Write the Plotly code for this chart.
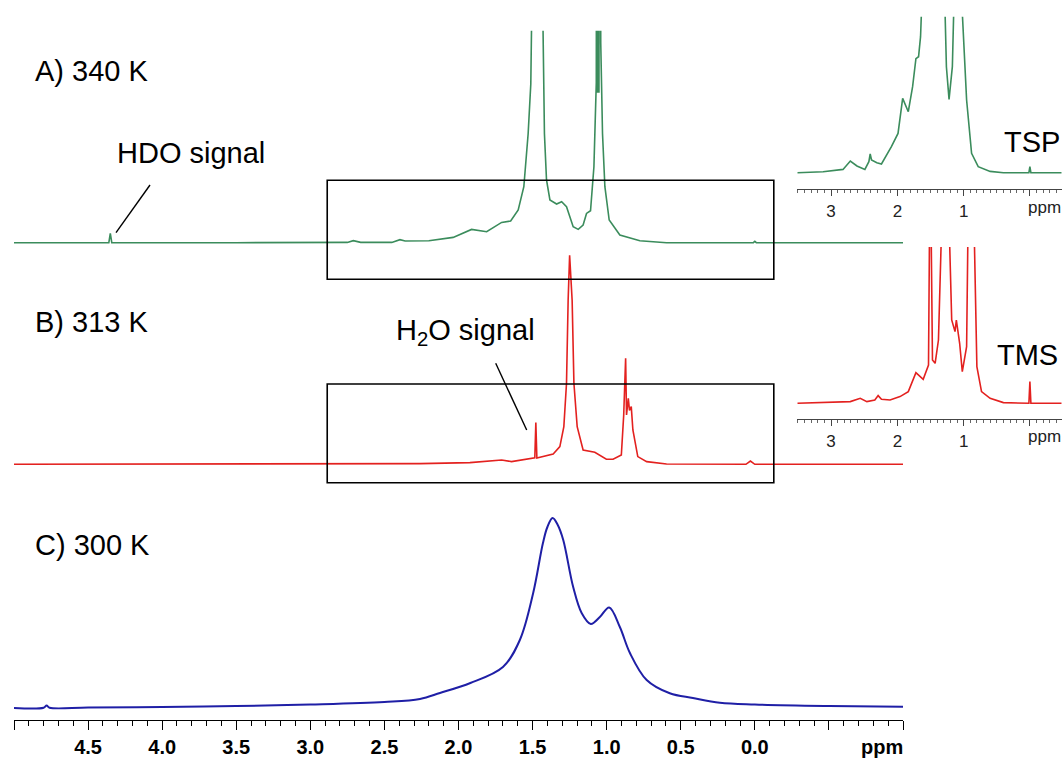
import plotly.graph_objects as go

W, H = 1064, 760

# ---------------- data (ppm, relative intensity, arbitrary units) ----------------
# C) 300 K (blue)
ppm_c = [5.0, 4.80, 4.78, 4.76, 4.5, 4.0, 3.5, 3.0, 2.5, 2.26, 2.125, 1.92, 1.70, 1.586, 1.496,
         1.43, 1.40, 1.365, 1.33, 1.293, 1.226, 1.169, 1.107, 1.046, 0.983, 0.911, 0.843, 0.73,
         0.574, 0.418, 0.236, 0.0, -0.5, -1.0]
int_c = [0, 0.3, 2.5, 0.3, 0.5, 1, 2, 3.5, 6, 9, 15, 25, 41, 68, 115,
         165, 181, 190, 183, 168, 121, 95, 84, 91, 100.5, 81, 55, 28,
         14.7, 10, 5.3, 3.5, 2, 1.3]

# B) 313 K (red)
ppm_b = [5.0, 2.935, 2.53, 2.26, 1.923, 1.709, 1.642, 1.496, 1.485, 1.478, 1.471, 1.361, 1.316,
         1.289, 1.271, 1.26, 1.25, 1.233, 1.221, 1.199, 1.159, 1.08, 1.002, 0.957, 0.901, 0.885,
         0.872, 0.866, 0.854, 0.846, 0.834, 0.823, 0.79, 0.73, 0.596, 0.06, 0.03, 0.0, -1.0]
int_b = [0, 0, 0.7, 0.7, 1.7, 4.3, 2.7, 5.7, 6.5, 41.7, 6.3, 10.3, 17.7,
         37.7, 81, 164, 209, 164, 81, 37.7, 14.3, 12, 5, 5, 9.3, 49.3,
         106, 49.3, 66, 54, 57.7, 34.3, 7.7, 2.7, 0.3, 0, 3.3, 0, 0]

# A) 340 K (green)
ppm_a = [5.0, 4.36, 4.35, 4.34, 3.5, 2.935, 2.75, 2.71, 2.66, 2.45, 2.395, 2.36, 2.2, 2.036,
         1.912, 1.81, 1.709, 1.648, 1.597, 1.559, 1.53, 1.512, 1.498, 1.465, 1.431, 1.42, 1.406,
         1.383, 1.338, 1.304, 1.271, 1.226, 1.192, 1.159, 1.136, 1.109, 1.086, 1.077, 1.070,
         1.066, 1.061, 1.057, 1.052, 1.048, 1.040, 1.028, 1.012, 0.983, 0.911, 0.776, 0.596,
         0.01, 0.0, -0.01, -1.0]
int_a = [0, 0, 9.4, 0, 0, 0, 0.3, 2, 0.3, 0.3, 3, 1.7, 2, 5.3,
         13.3, 11, 20.3, 21.7, 32.7, 56, 109, 159, 230, 700, 230, 109, 62.7,
         42.7, 38.7, 41, 36, 16, 13.3, 17.7, 29.3, 32, 76, 129, 160,
         700, 150, 700, 150, 700, 200, 109, 56, 22.7, 7.7, 2, 0,
         0, 1.3, 0, 0]

# Inset of A (green, TSP reference)
ppm_ia = [3.51, 3.12, 2.82, 2.71, 2.61, 2.49, 2.43, 2.41, 2.39, 2.31, 2.24, 2.16, 2.09, 1.99,
          1.92, 1.835, 1.77, 1.72, 1.68, 1.65, 1.63, 1.45, 1.28, 1.26, 1.22, 1.17, 1.15, 1.08,
          1.02, 0.955, 0.88, 0.78, 0.60, 0.40, 0.015, 0.0, -0.015, -0.48]
int_ia = [0, 1, 3.3, 11.7, 6.7, 3.3, 11, 18.7, 12.7, 10, 8.7, 17.7, 26, 39.3,
          74.3, 61, 86, 114, 116, 136, 160, 500, 160, 106, 73.3, 106, 160, 500,
          160, 72.7, 19.3, 6, 1.3, 0, 0, 6, 0, 0]

# Inset of B (red, TMS reference)
ppm_ib = [3.51, 2.71, 2.56, 2.46, 2.34, 2.29, 2.24, 2.11, 1.96, 1.835, 1.72, 1.61, 1.53, 1.515,
          1.505, 1.49, 1.47, 1.43, 1.38, 1.335, 1.25, 1.215, 1.18, 1.13, 1.11, 1.06, 1.02, 0.98,
          0.955, 0.935, 0.87, 0.84, 0.80, 0.73, 0.60, 0.40, 0.015, 0.0, -0.015, -0.48]
int_ib = [0, 1.7, 5, 1.7, 3.3, 7.7, 4, 3.3, 6.7, 11.7, 30.7, 24, 38.3, 170,
          400, 170, 43.3, 40, 63.3, 170, 1500, 170, 83.3, 71.7, 83.3, 60, 31.7, 45,
          56.7, 170, 700, 170, 36.7, 11.7, 5, 0.7, 0, 21.7, 0, 0]

main_tickvals = [4.5, 4.0, 3.5, 3.0, 2.5, 2.0, 1.5, 1.0, 0.5, 0.0]
main_ticktext = ["4.5", "4.0", "3.5", "3.0", "2.5", "2.0", "1.5", "1.0", "0.5", "0.0"]
main_unlabeled_ticks = [5.0, -0.5, -1.0]
inset_tickvals = [3, 2, 1]
inset_ticktext = ["3", "2", "1"]
inset_unlabeled_ticks = [0]

GREEN = "#3b8c5c"
RED = "#e3211f"
BLUE = "#1f1fa6"
FONT = "Liberation Sans, Arial, sans-serif"


# ---------------- layout helpers (pixel based) ----------------
def xdom(left_px, right_px):
    return [left_px / W, right_px / W]


def ydom(bottom_px, top_px):
    return [1 - bottom_px / H, 1 - top_px / H]


def yrng(bottom_px, top_px, base_px):
    # 1 intensity unit = 1 pixel
    return [-(bottom_px - base_px), base_px - top_px]


def px(x):
    return x / W


def py(y):
    return 1 - y / H


fig = go.Figure()
fig.add_trace(go.Scatter(x=ppm_c, y=int_c, mode="lines", line=dict(color=BLUE, shape="spline", width=2),
                         xaxis="x", yaxis="y", hoverinfo="skip"))
fig.add_trace(go.Scatter(x=ppm_b, y=int_b, mode="lines", line=dict(color=RED, width=1.6),
                         xaxis="x", yaxis="y2", hoverinfo="skip"))
fig.add_trace(go.Scatter(x=ppm_a, y=int_a, mode="lines", line=dict(color=GREEN, width=1.6),
                         xaxis="x", yaxis="y3", hoverinfo="skip"))
fig.add_trace(go.Scatter(x=ppm_ia, y=int_ia, mode="lines", line=dict(color=GREEN, width=1.6),
                         xaxis="x2", yaxis="y4", hoverinfo="skip"))
fig.add_trace(go.Scatter(x=ppm_ib, y=int_ib, mode="lines", line=dict(color=RED, width=1.6),
                         xaxis="x3", yaxis="y5", hoverinfo="skip"))
# empty traces so the tick-only overlay axes get drawn
for xa, ya in [("x4", "y"), ("x5", "y4"), ("x6", "y5")]:
    fig.add_trace(go.Scatter(x=[], y=[], mode="lines", xaxis=xa, yaxis=ya, hoverinfo="skip"))

hidden_y = dict(visible=False, showgrid=False, zeroline=False, fixedrange=True)
main_range = [5.0, -1.0]
inset_range = [3.51, -0.48]

main_x = dict(
    domain=xdom(14, 903), range=main_range, anchor="y",
    showline=True, linecolor="black", linewidth=1.4,
    ticks="outside", ticklen=9, tickwidth=1.4, tickcolor="black",
    tickmode="array", tickvals=main_tickvals, ticktext=main_ticktext,
    tickfont=dict(family=FONT, size=20, color="black", weight="bold"),
    minor=dict(ticks="outside", ticklen=5, tickwidth=1.1, tickcolor="black", tick0=0, dtick=0.1),
    showgrid=False, zeroline=False,
)
main_x_extra = dict(
    overlaying="x", range=main_range, anchor="y", showline=False,
    ticks="outside", ticklen=9, tickwidth=1.4, tickcolor="black",
    tickmode="array", tickvals=main_unlabeled_ticks, showticklabels=False,
    showgrid=False, zeroline=False,
)


def inset_x(anchor):
    return dict(
        domain=xdom(797.3, 1061.7), range=inset_range, anchor=anchor,
        showline=True, linecolor="#444", linewidth=1.2,
        ticks="outside", ticklen=6, tickwidth=1.1, tickcolor="#444",
        tickmode="array", tickvals=inset_tickvals, ticktext=inset_ticktext,
        tickfont=dict(family=FONT, size=17, color="#222"),
        minor=dict(ticks="outside", ticklen=3, tickwidth=0.8, tickcolor="#666", tick0=0, dtick=0.1),
        showgrid=False, zeroline=False,
    )


def inset_x_extra(over, anchor):
    return dict(
        overlaying=over, range=inset_range, anchor=anchor, showline=False,
        ticks="outside", ticklen=6, tickwidth=1.1, tickcolor="#444",
        tickmode="array", tickvals=inset_unlabeled_ticks, showticklabels=False,
        showgrid=False, zeroline=False,
    )


fig.update_layout(
    width=W, height=H,
    margin=dict(l=0, r=0, t=0, b=0),
    paper_bgcolor="white", plot_bgcolor="rgba(0,0,0,0)",
    showlegend=False,
    xaxis=main_x,
    xaxis2=inset_x("y4"),
    xaxis3=inset_x("y5"),
    xaxis4=main_x_extra,
    xaxis5=inset_x_extra("x2", "y4"),
    xaxis6=inset_x_extra("x3", "y5"),
    yaxis=dict(domain=ydom(720, 500), range=yrng(720, 500, 708), anchor="x", **hidden_y),
    yaxis2=dict(domain=ydom(484, 255), range=yrng(484, 255, 464.3), anchor="x", **hidden_y),
    yaxis3=dict(domain=ydom(280, 30.7), range=yrng(280, 30.7, 242.7), anchor="x", **hidden_y),
    yaxis4=dict(domain=ydom(189.3, 16.7), range=yrng(189.3, 16.7, 172.7), anchor="x2", **hidden_y),
    yaxis5=dict(domain=ydom(419.3, 247), range=yrng(419.3, 247, 403.3), anchor="x3", **hidden_y),
)

# zoom boxes
for top, bot in [(180.3, 279.3), (384, 482.7)]:
    fig.add_shape(type="rect", xref="x", yref="paper", x0=2.886, x1=-0.128, y0=py(bot), y1=py(top),
                  line=dict(color="black", width=1.6), fillcolor="rgba(0,0,0,0)")

# pointer lines
fig.add_shape(type="line", xref="paper", yref="paper", x0=px(150), y0=py(185), x1=px(116), y1=py(232.7),
              line=dict(color="black", width=1.4))
fig.add_shape(type="line", xref="paper", yref="paper", x0=px(495.7), y0=py(363.3), x1=px(526.7), y1=py(430),
              line=dict(color="black", width=1.4))


def label(text, x, y, size=29, xanchor="left", bold=False, color="black"):
    fig.add_annotation(text=text, x=px(x), y=py(y), xref="paper", yref="paper", showarrow=False,
                       xanchor=xanchor, yanchor="middle",
                       font=dict(family=FONT, size=size, color=color, weight="bold" if bold else "normal"))


label("A) 340 K", 33, 71)
label("B) 313 K", 33, 322)
label("C) 300 K", 33, 545)
label("HDO signal", 115, 153)
label("H<sub>2</sub>O signal", 394, 332)
label("TSP", 1032, 142, xanchor="center")
label("TMS", 1027, 355, xanchor="center")
label("ppm", 905, 747, size=20, xanchor="right", bold=True)
label("ppm", 1063, 207, size=17, xanchor="right", color="#222")
label("ppm", 1063, 437, size=17, xanchor="right", color="#222")

fig.write_html("out.html")
